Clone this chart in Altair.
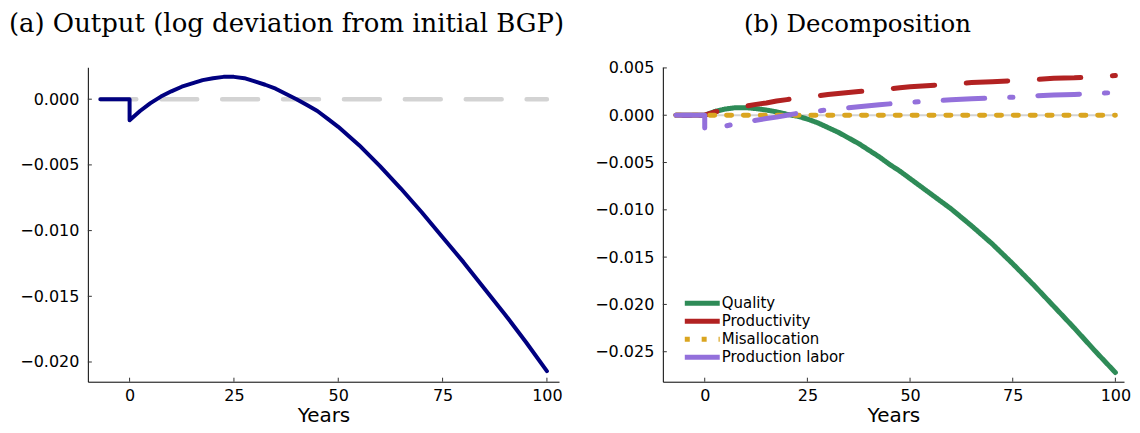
import altair as alt
import pandas as pd

# ---------------- data ----------------
years_out = [-7, 0, 0, 2.5, 5, 7.5, 10, 12.5, 15, 17.5, 20, 22.5, 25, 27.5, 30, 32.5, 35,
             37.5, 40, 42.5, 45, 47.5, 50, 55, 60, 65, 70, 75, 80, 85, 90, 95, 100]
output = [0, 0, -0.0016, -0.0009, -0.0003, 0.0002, 0.0006, 0.00095, 0.0012, 0.00145, 0.0016,
          0.0017, 0.0017, 0.0016, 0.00135, 0.0011, 0.0008, 0.0004, 0.0, -0.00045, -0.0009,
          -0.0015, -0.0021, -0.0035, -0.0051, -0.0068, -0.0086, -0.0105, -0.0124, -0.0144,
          -0.0164, -0.0185, -0.0207]
baseline_years = [-7, 100]
baseline_vals = [0, 0]

years_dec = [-7, 0, 0, 2.5, 5, 7.5, 10, 12.5, 15, 17.5, 20, 22.5, 25, 27.5, 30, 32.5, 35,
             37.5, 40, 42.5, 45, 47.5, 50, 55, 60, 65, 70, 75, 80, 85, 90, 95, 100]
quality = [0, 0, 0, 0.0004, 0.00065, 0.0008, 0.0008, 0.0007, 0.00055, 0.00035, 0.0001,
           -0.0001, -0.0004, -0.0008, -0.0013, -0.0018, -0.0024, -0.0030, -0.0037, -0.0044,
           -0.0052, -0.0059, -0.0067, -0.0083, -0.0099, -0.0117, -0.0136, -0.0157, -0.0179,
           -0.0202, -0.0225, -0.0249, -0.0272]
productivity = [0, 0, 0, 0.00035, 0.0006, 0.0008, 0.00095, 0.00115, 0.0013, 0.0015, 0.00165,
                0.0018, 0.0019, 0.00205, 0.0022, 0.0023, 0.0024, 0.0025, 0.0026, 0.0027,
                0.0028, 0.0029, 0.003, 0.00315, 0.0033, 0.00345, 0.00355, 0.00365, 0.00375,
                0.0039, 0.00395, 0.00405, 0.0042]
misallocation = [0] * len(years_dec)
production_labor = [0, 0, -0.0016, -0.0014, -0.00115, -0.0009, -0.0007, -0.00053, -0.00035,
                    -0.0002, 0.0, 0.0002, 0.00033, 0.00045, 0.00056, 0.00067, 0.00078, 0.00089,
                    0.001, 0.0011, 0.0012, 0.0013, 0.00137, 0.0015, 0.00163, 0.00173, 0.00182,
                    0.0019, 0.00205, 0.00213, 0.0022, 0.0023, 0.0024]

series_names = ["Quality", "Productivity", "Misallocation", "Production labor"]
series_colors = ["#2e8b57", "#b22222", "#daa520", "#9370db"]
series_dashes = [[1, 0], [41.6, 31.7], [5, 11.9], [41.7, 25, 3.3, 25]]

x_ticks = [0, 25, 50, 75, 100]
y_ticks_left = [0.0, -0.005, -0.010, -0.015, -0.020]
y_ticks_right = [0.005, 0.0, -0.005, -0.010, -0.015, -0.020, -0.025]

title_left = "(a) Output (log deviation from initial BGP)"
title_right = "(b) Decomposition"

# ---------------- frames ----------------
out_df = pd.DataFrame({"t": years_out, "v": output, "i": list(range(len(years_out)))})
base_df = pd.DataFrame({"t": baseline_years, "v": baseline_vals})
rows = []
for name, vals in zip(series_names, [quality, productivity, misallocation, production_labor]):
    for k, (t, v) in enumerate(zip(years_dec, vals)):
        rows.append({"series": name, "t": t, "v": v, "i": k})
dec_df = pd.DataFrame(rows)
xt_df = pd.DataFrame({"t": x_ticks})
ytl_df = pd.DataFrame({"v": y_ticks_left})
ytr_df = pd.DataFrame({"v": y_ticks_right})

W_L, W_R, H = 472, 462, 315
GAP = 104
TICK = "#333333"
TITLE_Y = -35

x_axis = alt.Axis(values=x_ticks, title="Years", format="d", grid=False, ticks=False,
                  tickSize=0, labelPadding=6, titleBaseline="alphabetic", titleY=40)


def y_axis(vals):
    return alt.Axis(values=vals, title=None, format=".3f", grid=False, ticks=False,
                    tickSize=0, labelPadding=9)


def title_mark(text, xpos, size):
    return alt.Chart(pd.DataFrame({"label": [text]})).mark_text(
        font="DejaVu Serif", fontSize=size, color="black", align="center",
        baseline="alphabetic"
    ).encode(text="label:N", x=alt.value(xpos), y=alt.value(TITLE_Y))


# ---------------- left panel ----------------
xs_l = alt.Scale(domain=[-10, 102.9], nice=False, zero=False)
ys_l = alt.Scale(domain=[-0.0215, 0.00243], nice=False, zero=False)

gray = alt.Chart(base_df).mark_line(
    color="#d3d3d3", strokeWidth=4.5, strokeDash=[36, 25], strokeCap="round"
).encode(
    x=alt.X("t:Q", scale=xs_l, axis=x_axis),
    y=alt.Y("v:Q", scale=ys_l, axis=y_axis(y_ticks_left)),
)
blue = alt.Chart(out_df).mark_line(
    color="#000080", strokeWidth=4, strokeCap="round", strokeJoin="round"
).encode(x="t:Q", y="v:Q", order="i:Q")
xt_l = alt.Chart(xt_df).mark_rule(color=TICK, strokeWidth=1).encode(
    x="t:Q", y=alt.value(H), y2=alt.value(H - 4))
yt_l = alt.Chart(ytl_df).mark_rule(color=TICK, strokeWidth=1).encode(
    y="v:Q", x=alt.value(0), x2=alt.value(4))

left = alt.layer(gray, blue, xt_l, yt_l, title_mark(title_left, 199, 26)).properties(
    width=W_L, height=H)

# ---------------- right panel ----------------
xs_r = alt.Scale(domain=[-10.2, 102.1], nice=False, zero=False)
ys_r = alt.Scale(domain=[-0.02817, 0.00507], nice=False, zero=False)

leg = alt.Legend(title=None, orient="none", legendX=W_L + GAP + 32, legendY=229,
                 symbolType="M-3.5,0H3.5", symbolSize=100, symbolStrokeWidth=5,
                 labelFont="DejaVu Sans", labelFontSize=15, labelColor="black",
                 rowPadding=-3, labelOffset=12, padding=0)
color_enc = alt.Color("series:N", scale=alt.Scale(domain=series_names, range=series_colors),
                      legend=leg)
dash_enc = alt.StrokeDash("series:N",
                          scale=alt.Scale(domain=series_names, range=series_dashes),
                          legend=leg)

zero_r = alt.Chart(base_df).mark_line(color="#d3d3d3", strokeWidth=2).encode(
    x=alt.X("t:Q", scale=xs_r, axis=x_axis),
    y=alt.Y("v:Q", scale=ys_r, axis=y_axis(y_ticks_right)),
)
layers = [zero_r]
for name in series_names:
    layers.append(
        alt.Chart(dec_df).transform_filter(alt.datum.series == name).mark_line(
            strokeWidth=5, strokeCap="round", strokeJoin="round"
        ).encode(x="t:Q", y="v:Q", color=color_enc, strokeDash=dash_enc, order="i:Q")
    )
xt_r = alt.Chart(xt_df).mark_rule(color=TICK, strokeWidth=1).encode(
    x="t:Q", y=alt.value(H), y2=alt.value(H - 4))
yt_r = alt.Chart(ytr_df).mark_rule(color=TICK, strokeWidth=1).encode(
    y="v:Q", x=alt.value(0), x2=alt.value(4))
layers += [xt_r, yt_r, title_mark(title_right, 195, 24.5)]

right = alt.layer(*layers).properties(width=W_R, height=H)

chart = alt.hconcat(left, right, spacing=GAP, bounds="flush").properties(
    padding={"left": 0, "top": 2, "right": 0, "bottom": 0}
).configure_view(stroke="transparent").configure_axis(
    labelFont="DejaVu Sans", labelFontSize=16, labelColor="black",
    titleFont="DejaVu Sans", titleFontSize=20, titleFontWeight="normal", titleColor="black",
    domainColor="black", domainWidth=1,
)

chart.save("out.html", embed_options={"renderer": "svg", "actions": False})
